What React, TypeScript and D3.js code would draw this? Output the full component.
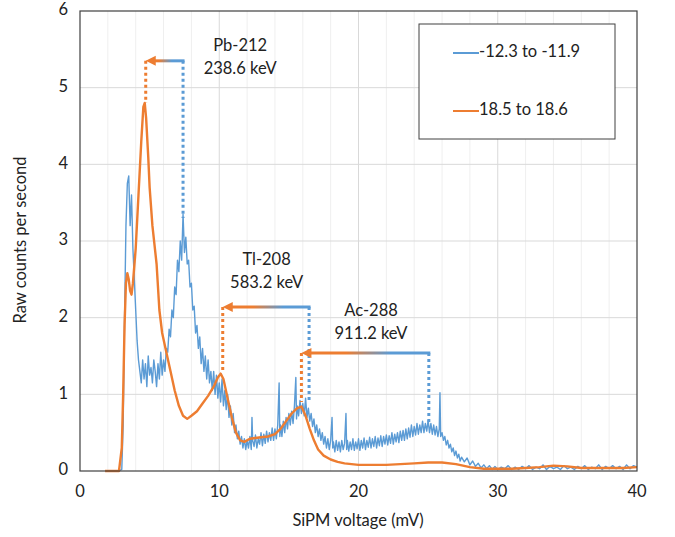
import React from "react";
import { scaleLinear, line, range } from "d3";

// blue spectrum: -12.3 to -11.9 (noisy)
const blueSeries: [number, number][] = [
  [2.8, 0], [3.0, 0.02], [3.1, 0.6], [3.2, 2.0], [3.3, 3.2], [3.4, 3.75], [3.5, 3.85], [3.6, 3.2],
  [3.7, 3.6], [3.8, 2.9], [3.9, 2.5],
  [4.0, 2.1], [4.1, 1.7], [4.2, 1.45], [4.3, 1.3], [4.4, 1.15], [4.5, 1.45], [4.6, 1.2], [4.7, 1.4],
  [4.8, 1.1], [4.9, 1.5], [5.0, 1.25], [5.1, 1.35], [5.2, 1.15], [5.3, 1.45], [5.4, 1.3], [5.5, 1.1],
  [5.6, 1.4], [5.7, 1.2], [5.8, 1.55], [5.9, 1.25], [6.0, 1.45], [6.1, 1.3], [6.2, 1.6], [6.3, 1.55],
  [6.4, 1.85], [6.5, 1.75], [6.6, 2.1], [6.7, 2.0], [6.8, 2.4], [6.9, 2.3], [7.0, 2.75], [7.1, 2.6],
  [7.2, 3.0], [7.3, 2.75], [7.4, 3.35], [7.5, 2.85], [7.6, 3.05], [7.7, 2.7], [7.8, 2.75], [7.9, 2.4],
  [8.0, 2.45], [8.1, 2.1], [8.2, 2.15], [8.3, 1.8], [8.4, 1.9], [8.5, 1.6], [8.6, 1.75], [8.7, 1.4],
  [8.8, 1.6], [8.9, 1.3], [9.0, 1.5], [9.1, 1.2], [9.2, 1.45], [9.3, 1.15], [9.4, 1.3], [9.5, 1.05],
  [9.6, 1.3], [9.7, 1.0], [9.8, 1.25], [9.9, 0.95], [10.0, 1.15], [10.1, 0.9], [10.2, 1.2], [10.3, 0.85],
  [10.4, 1.05], [10.5, 0.8], [10.6, 1.0], [10.7, 0.7], [10.8, 0.85], [10.9, 0.6], [11.0, 0.75],
  [11.1, 0.5], [11.2, 0.6], [11.3, 0.42], [11.4, 0.52], [11.5, 0.35], [11.6, 0.45], [11.7, 0.3],
  [11.8, 0.42], [11.9, 0.28], [12.0, 0.4], [12.1, 0.3], [12.2, 0.45], [12.3, 0.28], [12.35, 0.7],
  [12.4, 0.4],
  [12.5, 0.32], [12.6, 0.47], [12.7, 0.3], [12.8, 0.42], [12.9, 0.35], [13.0, 0.5], [13.1, 0.33],
  [13.2, 0.48], [13.3, 0.36], [13.4, 0.52], [13.5, 0.38], [13.6, 0.5], [13.7, 0.4], [13.8, 0.56],
  [13.9, 0.4], [14.0, 0.55], [14.1, 0.42], [14.2, 0.6], [14.3, 1.15], [14.35, 0.45], [14.4, 0.6],
  [14.5, 0.45], [14.6, 0.65], [14.7, 0.5], [14.8, 0.7], [14.9, 0.55], [15.0, 0.75], [15.1, 0.6],
  [15.2, 0.78], [15.3, 0.62], [15.4, 0.85], [15.5, 1.22], [15.55, 0.68], [15.6, 0.85], [15.7, 0.72],
  [15.8, 0.92], [15.9, 0.75], [16.0, 0.88], [16.1, 0.72], [16.2, 0.95], [16.3, 0.7], [16.4, 0.82],
  [16.5, 0.65], [16.6, 0.75], [16.7, 0.58], [16.8, 0.68], [16.9, 0.5], [17.0, 0.6], [17.1, 0.45],
  [17.2, 0.55], [17.3, 0.4], [17.4, 0.5], [17.5, 0.35], [17.6, 0.45], [17.7, 0.3], [17.8, 0.42],
  [17.9, 0.28], [18.0, 0.4], [18.1, 0.7], [18.15, 0.3], [18.2, 0.38], [18.3, 0.25], [18.4, 0.4],
  [18.5, 0.27], [18.6, 0.38], [18.7, 0.25], [18.8, 0.4], [18.9, 0.28], [19.0, 0.36], [19.1, 0.75],
  [19.15, 0.28], [19.2, 0.4], [19.3, 0.26], [19.4, 0.38], [19.5, 0.28], [19.6, 0.42], [19.7, 0.27],
  [19.8, 0.38], [19.9, 0.29], [20.0, 0.42], [20.1, 0.27], [20.2, 0.4], [20.3, 0.3], [20.4, 0.43],
  [20.5, 0.28], [20.6, 0.4], [20.7, 0.31], [20.8, 0.44], [20.9, 0.3], [21.0, 0.42], [21.1, 0.32],
  [21.2, 0.45], [21.3, 0.3], [21.4, 0.43], [21.5, 0.33], [21.6, 0.46], [21.7, 0.32], [21.8, 0.45],
  [21.9, 0.35], [22.0, 0.47], [22.1, 0.34], [22.2, 0.46], [22.3, 0.36], [22.4, 0.5], [22.5, 0.35],
  [22.6, 0.48], [22.7, 0.38], [22.8, 0.5], [22.9, 0.37], [23.0, 0.52], [23.1, 0.4], [23.2, 0.53],
  [23.3, 0.4], [23.4, 0.55], [23.5, 0.42], [23.6, 0.56], [23.7, 0.44], [23.8, 0.6], [23.9, 0.45],
  [24.0, 0.58], [24.1, 0.47], [24.2, 0.62], [24.3, 0.48], [24.4, 0.6], [24.5, 0.5], [24.6, 0.65],
  [24.7, 0.5], [24.8, 0.62], [24.9, 0.52], [25.0, 0.66], [25.1, 0.5], [25.2, 0.62], [25.3, 0.48],
  [25.4, 0.6], [25.5, 0.47], [25.6, 0.58], [25.7, 0.45], [25.8, 0.55], [25.85, 1.02], [25.9, 0.45],
  [26.0, 0.5], [26.1, 0.4], [26.2, 0.45], [26.3, 0.34], [26.4, 0.4], [26.5, 0.3], [26.6, 0.35],
  [26.7, 0.25], [26.8, 0.3], [26.9, 0.2], [27.0, 0.26], [27.1, 0.17], [27.2, 0.22], [27.3, 0.13],
  [27.4, 0.18], [27.6, 0.12], [27.8, 0.17], [28.0, 0.08], [28.2, 0.13], [28.4, 0.06], [28.6, 0.1],
  [28.8, 0.04], [29.0, 0.08], [29.2, 0.03], [29.4, 0.07], [29.6, 0.02], [29.8, 0.06], [30.0, 0.02],
  [30.25, 0.05], [30.5, 0.03], [30.75, 0.07], [31.0, 0.02], [31.25, 0.05], [31.5, 0.02], [31.75, 0.06],
  [32.0, 0.03], [32.25, 0.07], [32.5, 0.02], [32.75, 0.05], [33.0, 0.03], [33.25, 0.08], [33.5, 0.02],
  [33.75, 0.06], [34.0, 0.03], [34.25, 0.05], [34.5, 0.02], [34.75, 0.07], [35.0, 0.03], [35.25, 0.05],
  [35.5, 0.02], [35.75, 0.06], [36.0, 0.03], [36.25, 0.07], [36.5, 0.02], [36.75, 0.05], [37.0, 0.03],
  [37.25, 0.08], [37.5, 0.02], [37.75, 0.06], [38.0, 0.03], [38.25, 0.07], [38.5, 0.03], [38.75, 0.06],
  [39.0, 0.02], [39.25, 0.08], [39.5, 0.03], [39.75, 0.07], [40.0, 0.05],
];

// orange spectrum: 18.5 to 18.6 (smooth)
const orangeSeries: [number, number][] = [
  [1.8, 0], [2.8, 0], [3.0, 0.3], [3.1, 1.0], [3.2, 1.9], [3.3, 2.45], [3.4, 2.58], [3.5, 2.5],
  [3.6, 2.35], [3.7, 2.3], [3.8, 2.45], [4.0, 2.9], [4.2, 3.6], [4.4, 4.3], [4.55, 4.75], [4.65, 4.8],
  [4.75, 4.6], [4.9, 4.1], [5.0, 3.7], [5.2, 3.2], [5.5, 2.7], [5.7, 2.1], [5.9, 1.8], [6.2, 1.55],
  [6.5, 1.3], [6.8, 1.05], [7.1, 0.85], [7.4, 0.72], [7.7, 0.68], [8.0, 0.72], [8.4, 0.78],
  [8.8, 0.88], [9.2, 0.98], [9.6, 1.1], [9.9, 1.22], [10.1, 1.27], [10.3, 1.2], [10.6, 0.95],
  [10.9, 0.7], [11.2, 0.5], [11.5, 0.4], [11.8, 0.38], [12.2, 0.42], [12.6, 0.43], [13.0, 0.44],
  [13.5, 0.45], [14.0, 0.48], [14.4, 0.55], [14.8, 0.65], [15.2, 0.75], [15.6, 0.82], [15.9, 0.84],
  [16.2, 0.72], [16.5, 0.55], [16.8, 0.4], [17.1, 0.28], [17.5, 0.2], [18.0, 0.15], [18.5, 0.12],
  [19, 0.1], [20, 0.08], [21, 0.08], [22, 0.08], [23, 0.09], [24, 0.1], [25, 0.11], [26, 0.11],
  [27, 0.09], [28, 0.05], [29, 0.03], [30, 0.03], [31, 0.03], [32, 0.04], [33, 0.05], [34, 0.07],
  [35, 0.06], [36, 0.04], [37, 0.04], [38, 0.04], [39, 0.04], [40, 0.05],
];

const seriesNames = ["-12.3 to -11.9", "18.5 to 18.6"];
const xTicks = [0, 10, 20, 30, 40];
const yTicks = [0, 1, 2, 3, 4, 5, 6];

// peak shift annotations (in data units)
const isotopes = ["Pb-212", "Tl-208", "Ac-288"];
const energies = ["238.6 keV", "583.2 keV", "911.2 keV"];
const bluePeak = [7.4, 16.45, 25.05];
const orangePeak = [4.72, 10.25, 15.9];
const arrowLevel = [5.35, 2.14, 1.54];
const blueFoot = [3.3, 0.9, 0.62];
const orangeFoot = [4.8, 1.28, 0.9];
const labelX = [11.5, 13.4, 20.9];
const labelY = [5.53, 2.74, 2.07];

const BLUE = "#5B9BD5";
const ORANGE = "#ED7D31";
const FONT = "Lato, 'Liberation Sans', sans-serif";
const FS = 16.5;

export default function App() {
  const width = 675;
  const height = 537;
  const left = 80, right = 637, top = 11, bottom = 471;

  const x = scaleLinear().domain([0, 40]).range([left, right]);
  const y = scaleLinear().domain([0, 6]).range([bottom, top]);

  const path = line<[number, number]>()
    .x((d) => x(d[0]))
    .y((d) => y(d[1]));

  const minorX = range(2, 40, 2);

  return (
    <svg width={width} height={height} style={{ position: "absolute", left: 0, top: 0 }} fontFamily={FONT}>
      <rect width={width} height={height} fill="#fff" />
      <defs>
        {isotopes.map((iso, i) => (
          <linearGradient key={iso} id={`grad${i}`} gradientUnits="userSpaceOnUse"
            x1={x(orangePeak[i])} x2={x(bluePeak[i])} y1={0} y2={0}>
            <stop offset="0.35" stopColor={ORANGE} />
            <stop offset="0.7" stopColor={BLUE} />
          </linearGradient>
        ))}
      </defs>

      {/* grid */}
      {minorX.map((v) => (
        <line key={"vx" + v} x1={x(v)} x2={x(v)} y1={top} y2={bottom}
          stroke={v % 10 === 0 ? "#d9d9d9" : "#efefef"} strokeWidth={1} />
      ))}
      {yTicks.slice(1, -1).map((v) => (
        <line key={"hy" + v} x1={left} x2={right} y1={y(v)} y2={y(v)} stroke="#d9d9d9" strokeWidth={1} />
      ))}

      {/* series */}
      <path d={path(blueSeries) ?? ""} fill="none" stroke={BLUE} strokeWidth={1.4} strokeLinejoin="round" />
      <path d={path(orangeSeries) ?? ""} fill="none" stroke={ORANGE} strokeWidth={2.4} strokeLinejoin="round" />

      {/* plot frame */}
      <rect x={left} y={top} width={right - left} height={bottom - top} fill="none" stroke="#404040" strokeWidth={1.2} />

      {/* annotations */}
      {isotopes.map((iso, i) => {
        const ax = x(orangePeak[i]);
        const bx = x(bluePeak[i]);
        const ay = y(arrowLevel[i]);
        return (
          <g key={iso}>
            <line x1={bx} x2={bx} y1={ay} y2={y(blueFoot[i])} stroke={BLUE} strokeWidth={3} strokeDasharray="3 3" />
            <line x1={ax} x2={ax} y1={ay} y2={y(orangeFoot[i])} stroke={ORANGE} strokeWidth={3} strokeDasharray="3 3" />
            <line x1={ax + 8} x2={bx + 1.5} y1={ay} y2={ay} stroke={`url(#grad${i})`} strokeWidth={3} />
            <path d={`M${ax},${ay} L${ax + 10},${ay - 5} L${ax + 10},${ay + 5} Z`} fill={ORANGE} />
            <text x={x(labelX[i])} y={y(labelY[i])} textAnchor="middle" dominantBaseline="middle" fontSize={FS} fill="#222">{iso}</text>
            <text x={x(labelX[i])} y={y(labelY[i]) + 23} textAnchor="middle" dominantBaseline="middle" fontSize={FS} fill="#222">{energies[i]}</text>
          </g>
        );
      })}

      {/* axes labels */}
      {yTicks.map((v) => (
        <text key={"yt" + v} x={68} y={y(v)} textAnchor="end" dominantBaseline="middle" fontSize={FS} fill="#222">{v}</text>
      ))}
      {xTicks.map((v) => (
        <text key={"xt" + v} x={x(v)} y={493} textAnchor="middle" dominantBaseline="middle" fontSize={FS} fill="#222">{v}</text>
      ))}
      <text x={358} y={522} textAnchor="middle" dominantBaseline="middle" fontSize={FS} fill="#222">SiPM voltage (mV)</text>
      <text transform="translate(22,240) rotate(-90)" textAnchor="middle" dominantBaseline="middle" fontSize={FS} fill="#222">Raw counts per second</text>

      {/* legend */}
      <rect x={419} y={24} width={196} height={115} fill="#fff" stroke="#404040" strokeWidth={1} />
      {seriesNames.map((name, i) => (
        <g key={name}>
          <line x1={453} x2={479} y1={53 + i * 58} y2={53 + i * 58} stroke={i === 0 ? BLUE : ORANGE} strokeWidth={2} />
          <text x={479} y={53 + i * 58} dominantBaseline="middle" fontSize={FS} fill="#222">{name}</text>
        </g>
      ))}
    </svg>
  );
}
